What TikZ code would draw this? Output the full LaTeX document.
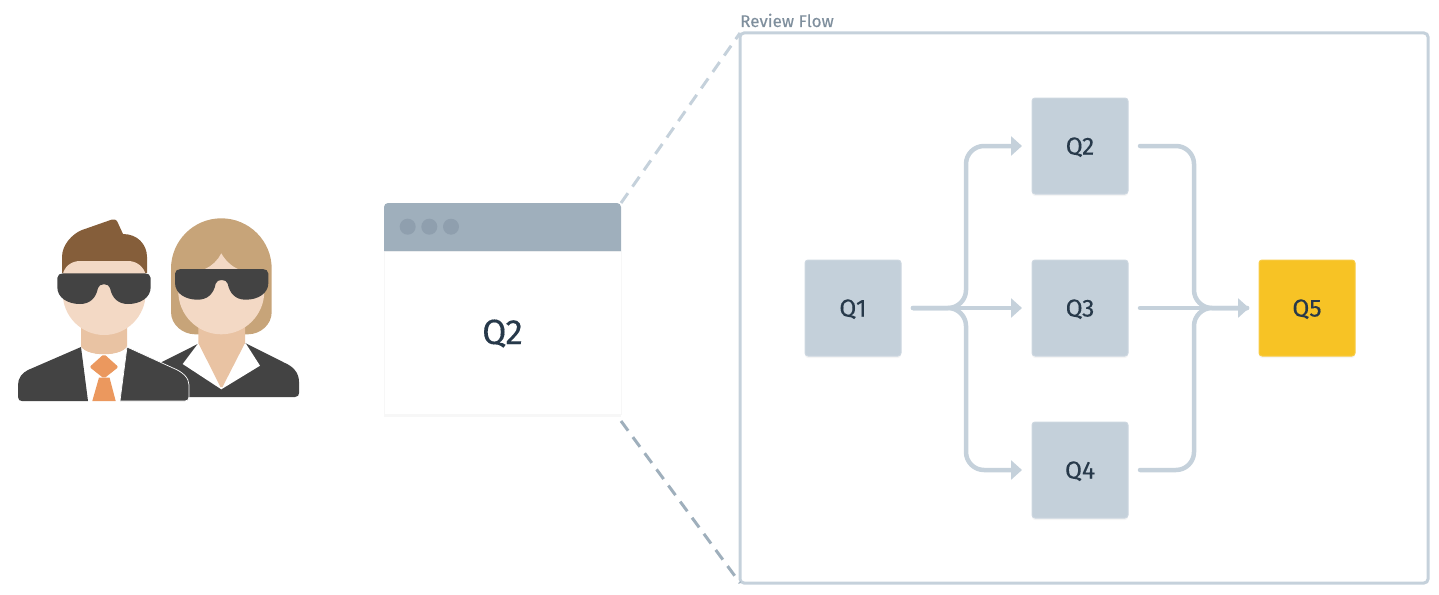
\documentclass[tikz,border=0pt]{standalone}
\usepackage{fontspec}
\setmainfont[UprightFeatures={FakeBold=0.25}]{Fira Sans}
\usetikzlibrary{arrows.meta,shadows}

\definecolor{flowgray}{HTML}{C5D1DB}
\definecolor{boxgray}{HTML}{C4D0DA}
\definecolor{barblue}{HTML}{9FAFBC}
\definecolor{dotblue}{HTML}{8F9FAE}
\definecolor{inkdark}{HTML}{27394A}
\definecolor{labelgray}{HTML}{7F8F9D}
\definecolor{gold}{HTML}{F7C325}
\definecolor{suitgray}{HTML}{434343}
\definecolor{skinlight}{HTML}{F3D9C5}
\definecolor{skindark}{HTML}{E9C3A3}
\definecolor{hairbrown}{HTML}{855E3A}
\definecolor{hairblond}{HTML}{C7A479}
\definecolor{tieorange}{HTML}{EB985E}

\tikzset{
  stagebox/.style={draw=#1!85!white,fill=#1,line width=1,rounded corners=3,inner sep=0,outer sep=0,
    minimum width=96,minimum height=96,text=inkdark,text height=17,text depth=0,font=\fontsize{24.5}{24.5}\selectfont,
    general shadow={shadow yshift=-2pt,fill=black,opacity=.04}},
  flowend/.style={draw=flowgray,line width=4.5,line cap=round,rounded corners=18,shorten <=12,shorten >=12},
  flow/.style={flowend,shorten >=10,-{Triangle[length=11,width=19]}},
  zoomline/.style={line width=3,dash pattern=on 12 off 8}
}

\newcommand{\shades}[2]{
  \fill[suitgray,shift={(#1,#2)}] (57.3,278) .. controls (57.3,275) and (60,273.3) .. (63,273.3)
    -- (145,273.3) .. controls (148,273.3) and (150.7,275) .. (150.7,278) -- (150.7,287)
    .. controls (150.7,298) and (140,304) .. (128,304) .. controls (118,304) and (112,298) .. (110,288)
    .. controls (109,283) and (99,283) .. (98,288) .. controls (96,298) and (90,304) .. (80,304)
    .. controls (68,304) and (57.3,298) .. (57.3,287) -- cycle;
}

\begin{document}
\begin{tikzpicture}[x=1pt,y=-1pt]
\useasboundingbox (0,0) rectangle (1439,594);

\fill[suitgray] (197.7,344) -- (150,368) -- (150,397) -- (295,397) .. controls (298,397) and (299,395) .. (299,393)
  -- (299,381.7) .. controls (299,372) and (292,366) .. (285,363) -- (245.7,343.3) -- cycle;
\fill[hairblond] (171,268.7) .. controls (171,240.9) and (193.5,218.3) .. (221.3,218.3)
  .. controls (249.1,218.3) and (271.7,240.9) .. (271.7,268.7)
  -- (271.7,312) .. controls (271.7,325) and (260,334.3) .. (248,334.3) -- (195,334.3)
  .. controls (183,334.3) and (171,325) .. (171,312) -- cycle;
\fill[white] (197.7,344) -- (182.7,364) -- (221.3,389.3) -- (260,365.7) -- (245.7,343.3) -- cycle;
\fill[skindark] (198.3,325) -- (245,325) -- (245,343) -- (222.5,387) -- (220.5,387) -- (198.3,343) -- cycle;
\fill[skinlight] (178.3,280) -- (264.3,280) -- (264.3,291.3) .. controls (264.3,315) and (245,334.3) .. (221.3,334.3)
  .. controls (197.6,334.3) and (178.3,315) .. (178.3,291.3) -- cycle;
\fill[skinlight] (221.3,253.3) .. controls (218,260) and (212,266) .. (205,269) -- (205,280) -- (238,280) -- (238,269)
  .. controls (231,266) and (225,260) .. (221.3,253.3) -- cycle;
\shades{117.7}{-4.3}

\fill[hairbrown] (62,273) -- (62,257) .. controls (62,245) and (72,234) .. (82,230) -- (112,219.5)
  .. controls (114,219) and (116,219.5) .. (117,221) -- (123,234) .. controls (137,234) and (147,244) .. (147,257)
  -- (147,273) -- cycle;
\fill[skindark] (81,325) -- (127,325) -- (127,347) .. controls (120,357) and (88,357) .. (81,347) -- cycle;
\fill[skinlight] (62.7,293) -- (62.7,275) .. controls (64,267) and (71,261) .. (80,261) -- (128,261)
  .. controls (137,261) and (144,267) .. (145.7,275) -- (145.7,293)
  .. controls (145.7,316) and (127,335) .. (104.2,335) .. controls (81,335) and (62.7,316) .. (62.7,293) -- cycle;
\fill[white] (81,347) .. controls (88,357) and (120,357) .. (127,347) -- (120,401) -- (88,401) -- cycle;
\fill[suitgray] (81,347) -- (28,370) .. controls (22,373) and (18,378) .. (18,385) -- (18,397)
  .. controls (18,400) and (20,401) .. (22,401) -- (88,401) -- cycle;
\filldraw[suitgray,draw=white,line width=.7] (127,347) -- (173,368) .. controls (183,372) and (189,378) .. (189,385) -- (189,397)
  .. controls (189,400) and (187,401) .. (185,401) -- (120,401) -- cycle;
\fill[tieorange,rounded corners=2] (104,354) -- (89.5,367) -- (104,378.5) -- (118.5,367) -- cycle;
\fill[tieorange] (99,377.5) -- (109.5,377.5) -- (115.7,401) -- (92.3,401) -- cycle;
\shades{0}{0}

\node[draw=black!3,fill=white,line width=1,inner sep=0,outer sep=0,minimum width=237,minimum height=163,
  text=inkdark,text height=23,text depth=0,font=\fontsize{35}{35}\selectfont,
  general shadow={shadow yshift=-3pt,fill=black,opacity=.03}] (window) at (502.5,332.5) {Q2};
\fill[barblue] (window.north west) [rounded corners=4] -- ++(0,-48) -- ++(237,0) [sharp corners] -- (window.north east) -- cycle;
\foreach \x in {407.7,429.3,451}
    \fill[dotblue] (\x,226.7) circle[radius=8];

\node[draw=flowgray,line width=3,rounded corners=4,inner sep=0,outer sep=0,minimum width=688,minimum height=550] (frame) at (1084,308) {};
\node[anchor=base west,inner sep=0,text=labelgray,font=\fontsize{17}{17}\selectfont] (flowlabel) at (740,27) {Review Flow};

\coordinate (zoomtop) at (621,203);
\coordinate (zoombottom) at (621,421);
\draw[zoomline,flowgray] (zoomtop) -- (frame.north west);
\draw[zoomline,barblue] (zoombottom) -- (frame.south west);

\node[stagebox=boxgray] (q1) at (853,308) {Q1};
\node[stagebox=boxgray] (q2) at (1080,146) {Q2};
\node[stagebox=boxgray] (q3) at (1080,308) {Q3};
\node[stagebox=boxgray] (q4) at (1080,470) {Q4};
\node[stagebox=gold] (q5) at (1307,308) {Q5};

\coordinate (split) at (966,308);
\coordinate (merge) at (1194,308);

\draw[flowend] (q2) -| (merge) -- (q5.west);
\draw[flowend] (q4) -| (merge) -- (q5.west);
\draw[flow] (q1) -- (q3);
\draw[flow] (q1) -- (split) |- (q2);
\draw[flow] (q1) -- (split) |- (q4);
\draw[flow] (q3) -- (q5);
\end{tikzpicture}
\end{document}
